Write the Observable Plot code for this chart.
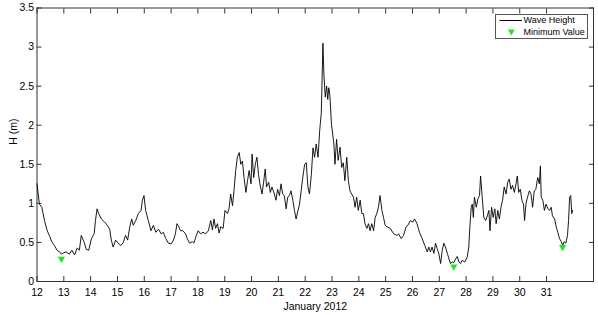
<!DOCTYPE html>
<html>
<head>
<meta charset="utf-8">
<script src="https://cdn.jsdelivr.net/npm/d3@7"></script>
<script src="https://cdn.jsdelivr.net/npm/@observablehq/plot@0.6"></script>
<style>
  body { margin: 0; background: #fff; font-family: "Liberation Sans", Arial, sans-serif; }
  #wrap { position: relative; width: 598px; height: 315px; }
  #legend { position: absolute; left: 495px; top: 14px; width: 93px; height: 25px; }
</style>
</head>
<body>
<div id="wrap">
  <div id="chart"></div>
  <div id="legend"></div>
</div>
<script>
// Day of January 2012 (fractional)
const days = [
  12.00, 12.09, 12.18, 12.28, 12.38, 12.47, 12.55, 12.65, 12.75, 12.84, 12.91, 12.96,
  13.08, 13.21, 13.30, 13.40, 13.50, 13.58, 13.65, 13.75, 13.84, 13.93,
  14.03, 14.13, 14.18, 14.24, 14.30, 14.40, 14.52, 14.62, 14.71, 14.77, 14.84, 14.93,
  15.03, 15.13, 15.22, 15.30, 15.38, 15.46, 15.53, 15.59, 15.68, 15.78, 15.88, 15.93, 15.99,
  16.05, 16.15, 16.25, 16.34, 16.43, 16.53, 16.63, 16.71, 16.80, 16.90,
  17.00, 17.09, 17.16, 17.22, 17.29, 17.35, 17.44, 17.54, 17.60, 17.69, 17.79, 17.85, 17.94,
  18.01, 18.10, 18.19, 18.29, 18.39, 18.48, 18.54, 18.60, 18.66, 18.73, 18.79, 18.85, 18.94,
  19.01, 19.10, 19.16, 19.22, 19.29, 19.35, 19.41, 19.47, 19.54, 19.60, 19.66, 19.72, 19.79, 19.85, 19.91, 19.98,
  20.02, 20.08, 20.14, 20.20, 20.26, 20.31, 20.39, 20.45, 20.51, 20.56, 20.64, 20.70, 20.76, 20.85, 20.91, 20.97,
  21.04, 21.10, 21.16, 21.22, 21.29, 21.35, 21.41, 21.47, 21.54, 21.60, 21.66, 21.72, 21.79, 21.85, 21.91, 21.98,
  22.04, 22.10, 22.16, 22.23, 22.29, 22.35, 22.41, 22.48, 22.54, 22.60, 22.63, 22.66, 22.70, 22.75, 22.80, 22.84, 22.88, 22.92, 22.98,
  23.07, 23.11, 23.17, 23.23, 23.30, 23.36, 23.42, 23.48, 23.55, 23.61, 23.67, 23.73, 23.80, 23.86, 23.92, 23.98,
  24.05, 24.11, 24.17, 24.23, 24.30, 24.36, 24.42, 24.48, 24.55, 24.61, 24.67, 24.73, 24.79, 24.86, 24.92, 24.98,
  25.05, 25.17, 25.30, 25.42, 25.48, 25.58, 25.67, 25.76, 25.83, 25.92,
  26.01, 26.08, 26.17, 26.26, 26.36, 26.46, 26.55, 26.61, 26.67, 26.73, 26.80, 26.86, 26.92, 26.98,
  27.05, 27.11, 27.17, 27.23, 27.30, 27.36, 27.42, 27.48, 27.54, 27.61, 27.67, 27.73, 27.79, 27.85, 27.95,
  28.04, 28.10, 28.14, 28.19, 28.23, 28.27, 28.31, 28.38, 28.44, 28.50, 28.54, 28.60, 28.66, 28.73, 28.79, 28.85, 28.89, 28.95,
  29.01, 29.07, 29.12, 29.18, 29.24, 29.30, 29.36, 29.42, 29.49, 29.55, 29.61, 29.67, 29.73, 29.80, 29.86, 29.91, 29.96,
  30.02, 30.08, 30.14, 30.18, 30.23, 30.29, 30.36, 30.42, 30.48, 30.54, 30.60, 30.67, 30.73, 30.77, 30.80, 30.86, 30.92, 30.98,
  31.05, 31.11, 31.17, 31.22, 31.30, 31.36, 31.42, 31.48, 31.55, 31.60, 31.66, 31.72, 31.78, 31.82, 31.86, 31.90, 31.94, 31.97
];
// Wave height H (m)
const waveHeight = [
  1.25, 0.99, 0.95, 0.78, 0.65, 0.58, 0.51, 0.46, 0.40, 0.38, 0.35, 0.36,
  0.38, 0.35, 0.40, 0.34, 0.43, 0.40, 0.59, 0.51, 0.41, 0.40,
  0.55, 0.61, 0.78, 0.93, 0.87, 0.80, 0.76, 0.72, 0.67, 0.53, 0.44, 0.53,
  0.49, 0.46, 0.50, 0.59, 0.53, 0.70, 0.80, 0.72, 0.78, 0.87, 0.91, 1.04, 1.10,
  0.91, 0.78, 0.65, 0.72, 0.63, 0.67, 0.61, 0.63, 0.55, 0.49,
  0.48, 0.53, 0.61, 0.74, 0.70, 0.65, 0.65, 0.61, 0.55, 0.49, 0.51, 0.49, 0.59,
  0.65, 0.61, 0.63, 0.61, 0.65, 0.78, 0.66, 0.80, 0.68, 0.74, 0.62, 0.70, 0.68,
  0.91, 0.87, 0.93, 1.12, 0.97, 1.18, 1.42, 1.59, 1.65, 1.50, 1.54, 1.33, 1.14, 1.29, 1.42, 1.25,
  1.63, 1.33, 1.50, 1.59, 1.37, 1.25, 1.12, 1.27, 1.44, 1.21, 1.27, 1.14, 1.21, 1.12, 1.04, 1.18,
  1.10, 1.25, 1.12, 1.10, 0.93, 1.08, 1.10, 1.16, 1.04, 0.91, 0.80, 0.89, 0.99, 1.16, 1.33, 1.50,
  1.52, 1.21, 1.12, 1.37, 1.71, 1.59, 1.76, 1.59, 1.93, 2.16, 2.58, 3.05, 2.63, 2.36, 2.50, 2.33, 2.48, 2.38, 2.01,
  1.76, 1.50, 1.82, 1.55, 1.72, 1.46, 1.52, 1.29, 1.59, 1.29, 1.16, 1.12, 1.08, 0.95, 1.08, 0.91,
  1.04, 0.87, 0.87, 0.74, 0.68, 0.74, 0.65, 0.74, 0.65, 0.82, 0.87, 0.95, 1.10, 0.91, 0.82, 0.72,
  0.70, 0.68, 0.61, 0.59, 0.61, 0.55, 0.59, 0.70, 0.72, 0.78,
  0.76, 0.80, 0.74, 0.63, 0.55, 0.46, 0.38, 0.44, 0.38, 0.44, 0.36, 0.49, 0.42, 0.36,
  0.23, 0.40, 0.49, 0.44, 0.36, 0.29, 0.23, 0.25, 0.24, 0.29, 0.32, 0.25, 0.23, 0.27, 0.25,
  0.31, 0.44, 0.70, 0.95, 0.99, 0.82, 1.08, 0.95, 1.06, 1.10, 1.35, 1.08, 0.82, 0.78, 0.84, 0.91, 0.65, 0.95,
  0.82, 0.93, 0.74, 0.91, 0.80, 0.95, 1.04, 1.21, 1.12, 1.27, 1.31, 1.18, 1.23, 1.14, 1.25, 1.35, 1.14,
  1.18, 1.04, 0.99, 0.78, 0.99, 1.08, 1.16, 1.12, 0.95, 1.16, 1.18, 1.33, 1.25, 1.48, 1.08, 1.04, 0.91, 0.99,
  0.93, 0.91, 0.95, 0.84, 0.80, 0.70, 0.63, 0.55, 0.51, 0.46, 0.51, 0.49, 0.59, 0.78, 1.08, 1.10, 0.87, 0.91
];
// Minimum values (markers)
const minDays = [12.91, 27.54, 31.60];
const minHeights = [0.29, 0.19, 0.44];

// Tick labels
const xTicks = [12, 13, 14, 15, 16, 17, 18, 19, 20, 21, 22, 23, 24, 25, 26, 27, 28, 29, 30, 31];
const yTicks = [0, 0.5, 1, 1.5, 2, 2.5, 3, 3.5];

const xLabel = "January 2012";
const yLabel = "H (m)";
const seriesNames = ["Wave Height", "Minimum Value"];

const lineData = days.map((d, i) => ({day: d, h: waveHeight[i]}));
const minData = minDays.map((d, i) => ({day: d, h: minHeights[i]}));

const axisColor = "#333";
const green = "#22e622";

const chart = Plot.plot({
  width: 598,
  height: 315,
  marginLeft: 36.5,
  marginRight: 5,
  marginTop: 7.5,
  marginBottom: 34,
  style: {fontFamily: "'Liberation Sans', Arial, sans-serif", fontSize: "10.5px", background: "white", color: "#000"},
  x: {domain: [12, 32.75], label: null},
  y: {domain: [0, 3.5], label: null},
  marks: [
    Plot.frame({stroke: axisColor}),
    Plot.axisX(xTicks, {anchor: "bottom", tickSize: -5, tickPadding: 12.5, stroke: axisColor, fill: "#000", tickFormat: d => String(d), label: null}),
    Plot.axisX(xTicks, {anchor: "top", tickSize: -5, stroke: axisColor, fill: "none", label: null}),
    Plot.axisY(yTicks, {anchor: "left", tickSize: -5, tickPadding: 8, stroke: axisColor, fill: "#000", tickFormat: d => String(d), label: null}),
    Plot.axisY(yTicks, {anchor: "right", tickSize: -5, stroke: axisColor, fill: "none", label: null}),
    Plot.line(lineData, {x: "day", y: "h", stroke: "#000", strokeWidth: 0.9}),
    Plot.dot(minData, {x: "day", y: "h", symbol: "triangle", rotate: 180, r: 2.7, fill: green, stroke: "none"}),
    Plot.text([xLabel], {frameAnchor: "bottom", dy: 21, lineAnchor: "top", fontSize: 10.5, fill: "#000"}),
    Plot.text([yLabel], {frameAnchor: "left", dx: -23.5, rotate: -90, fontSize: 10.5, fill: "#000"})
  ]
});
document.getElementById("chart").appendChild(chart);

// Legend
const lg = d3.select("#legend").append("svg")
  .attr("width", 93).attr("height", 25)
  .style("font-family", "'Liberation Sans', Arial, sans-serif")
  .style("font-size", "9px");
lg.append("rect").attr("x", 0.5).attr("y", 0.5).attr("width", 92).attr("height", 24)
  .attr("fill", "#fff").attr("stroke", "#555");
lg.append("line").attr("x1", 4.5).attr("x2", 27).attr("y1", 6.5).attr("y2", 6.5)
  .attr("stroke", "#000").attr("stroke-width", 1);
lg.append("text").attr("x", 28.5).attr("y", 6.8).attr("dominant-baseline", "middle")
  .attr("fill", "#000").text(seriesNames[0]);
lg.append("path").attr("d", "M12.8,15.5 L19.8,15.5 L16.3,21.5 Z").attr("fill", green);
lg.append("text").attr("x", 28.5).attr("y", 18.2).attr("dominant-baseline", "middle")
  .attr("fill", "#000").text(seriesNames[1]);
</script>
</body>
</html>
